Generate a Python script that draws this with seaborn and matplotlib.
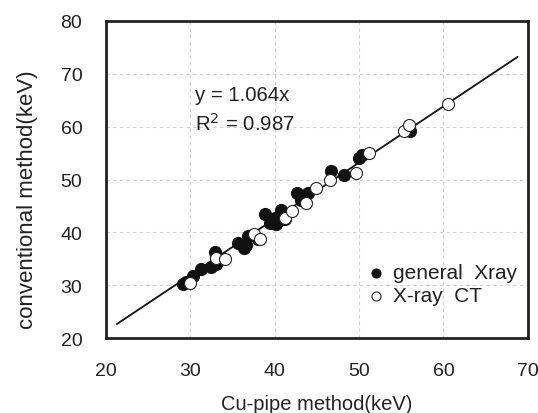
import matplotlib
matplotlib.use("Agg")
import matplotlib.pyplot as plt
import seaborn as sns
import numpy as np
import pandas as pd

# general Xray (filled)
gx_x = [29.1, 29.5, 30.3, 31.3, 32.5, 33.0, 32.9, 33.1, 35.6, 36.4, 36.6, 36.8, 38.0,
        38.9, 39.4, 40.0, 40.2, 40.4, 40.8, 41.2, 42.7, 43.1, 43.9, 46.7, 48.2, 50.0,
        50.4, 56.0]
gx_y = [30.2, 30.6, 31.7, 33.0, 33.4, 34.0, 36.3, 35.4, 38.0, 37.1, 37.7, 39.3, 38.7,
        43.4, 41.8, 42.8, 41.5, 42.1, 44.2, 42.5, 47.5, 46.2, 47.5, 51.6, 50.9, 54.1,
        54.7, 59.1]
# X-ray CT (open)
ct_x = [30.0, 33.1, 34.1, 37.6, 38.2, 41.2, 42.0, 43.7, 44.9, 46.5, 49.6, 51.2,
        55.3, 55.9, 60.5]
ct_y = [30.4, 35.2, 34.9, 39.6, 38.7, 42.8, 44.0, 45.6, 48.4, 50.0, 51.2, 55.0,
        59.1, 60.4, 64.3]

slope = 1.064
line_x = [21.3, 68.8]
x_ticks = [20, 30, 40, 50, 60, 70]
y_ticks = [20, 30, 40, 50, 60, 70, 80]

sns.set_theme(style="white")
plt.rcParams['font.family'] = ['Liberation Sans', 'DejaVu Sans']

fig = plt.figure(figsize=(5.38, 4.14), dpi=100)
ax = fig.add_axes([0.197, 0.181, 0.784, 0.766])

df_g = pd.DataFrame({"x": gx_x, "y": gx_y})
df_c = pd.DataFrame({"x": ct_x, "y": ct_y})
df_l = pd.DataFrame({"x": line_x, "y": [slope * v for v in line_x]})

sns.lineplot(data=df_l, x="x", y="y", ax=ax, color="#111111", lw=1.3, zorder=2)
sns.scatterplot(data=df_g, x="x", y="y", ax=ax, s=75, color="#111111",
                edgecolor="#111111", linewidth=0.8, zorder=3, label="general  Xray")
sns.scatterplot(data=df_c, x="x", y="y", ax=ax, s=75, facecolor="white",
                edgecolor="#222222", linewidth=0.8, zorder=4, label="X-ray  CT")

ax.set_xlim(20, 70)
ax.set_ylim(20, 80)
ax.set_xticks(x_ticks)
ax.set_yticks(y_ticks)
ax.tick_params(labelsize=14, colors="#222222", length=0)
ax.tick_params(axis="y", pad=17)
ax.tick_params(axis="x", pad=17)
ax.grid(True, ls=(0, (3, 3)), color="#d0d0d0", lw=0.8)
for s in ax.spines.values():
    s.set_visible(True)
    s.set_color("#222222")
    s.set_linewidth(2)

ax.set_xlabel("Cu-pipe method(keV)", fontsize=14.5, color="#222222")
ax.xaxis.set_label_coords(0.5, -0.175)
ax.set_ylabel("conventional method(keV)", fontsize=16, color="#222222")
ax.yaxis.set_label_coords(-0.16, 0.44)

ax.text(30.6, 66.0, "y = 1.064x", fontsize=14.7, color="#222222", va="center")
ax.text(30.5, 60.8, "R$^2$ = 0.987", fontsize=14.7, color="#222222", va="center")

leg = ax.legend(loc="upper left", bbox_to_anchor=(0.596, 0.262), frameon=False,
                fontsize=15, handletextpad=0.3, handlelength=1.0, borderaxespad=0,
                labelspacing=0.2, markerscale=0.75)
for t in leg.get_texts():
    t.set_color("#222222")

fig.savefig("out.png", dpi=100)
